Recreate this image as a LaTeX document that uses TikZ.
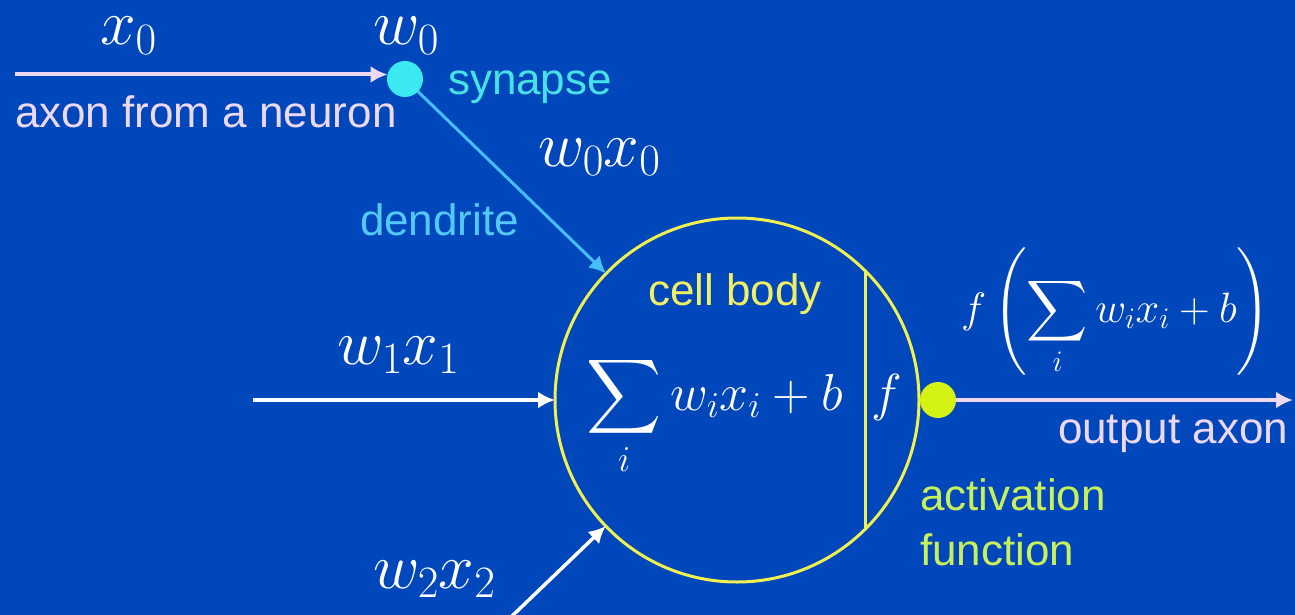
\RequirePackage{fix-cm}
\documentclass[tikz,border=0pt]{standalone}
\usepackage[no-math]{fontspec}
\DeclareFontShape{OMX}{cmex}{m}{n}{<->cmex10}{}
\newfontfamily\lab{Liberation Sans}
\usetikzlibrary{arrows.meta}
\definecolor{bg}{RGB}{0,71,187}
\definecolor{lav}{RGB}{236,216,242}
\definecolor{cyandot}{RGB}{60,232,242}
\definecolor{syntext}{RGB}{70,226,230}
\definecolor{dend}{RGB}{70,190,250}
\definecolor{dendtext}{RGB}{85,200,250}
\definecolor{cellyel}{RGB}{240,240,80}
\definecolor{celltext}{RGB}{240,240,100}
\definecolor{actdot}{RGB}{212,242,20}
\definecolor{acttext}{RGB}{200,240,90}
\begin{document}
\begin{tikzpicture}[x=1pt,y=-1pt,
  lbl/.style={inner sep=0pt, outer sep=0pt, anchor=base west, font=\lab\fontsize{44}{52}\selectfont},
  mth/.style={inner sep=0pt, outer sep=0pt, anchor=base west, text=white, font=\fontsize{64}{72}\selectfont},
  dot/.style={circle, inner sep=0pt, outer sep=0pt, minimum size=36pt},
  tip/.style={-{Latex[length=17pt,width=17pt]}},
  ]
\fill[bg] (0,0) rectangle (1295,615);
\useasboundingbox (0,0) rectangle (1295,615);

% cell body
\node[circle, draw=cellyel, line width=3pt, inner sep=0pt, outer sep=0pt, minimum size=364pt] (body) at (737,400) {};
\draw[cellyel, line width=3pt] (body.45) -- (body.-45);

% dots
\node[dot, fill=cyandot] (syn) at (405,79) {};
\node[dot, fill=actdot] (act) at (938,400) {};

% coordinates
\coordinate (x0start) at (15,74.5);
\coordinate (x1start) at (253,400);
\coordinate (x2start) at (510,618);
\coordinate (outend) at (1293,400);

% connectors
\draw[lav, line width=4pt, tip] (x0start) -- (x0start -| syn.165);
\draw[dend, line width=3pt, tip] (syn) -- (body);
\draw[white, line width=3.5pt, tip] (x1start) -- (body);
\draw[white, line width=3.5pt, tip] (x2start) -- (body);
\draw[lav, line width=4pt, tip] (act) -- (outend);

% labels
\node[mth] (lx0) at (100,45) {$x_0$};
\node[mth] (lw0) at (373,45) {$w_0$};
\node[mth] (lw0x0) at (538,166) {$w_0x_0$};
\node[mth] (lw1x1) at (337,364) {$w_1x_1$};
\node[mth] (lw2x2) at (373,588) {$w_2x_2$};

\node[lbl, text=lav] (taxon) at (15,128) {axon from a neuron};
\node[lbl, text=syntext] (tsyn) at (448,95) {synapse};
\node[lbl, text=dendtext] (tdend) at (360,235) {dendrite};
\node[lbl, text=celltext, anchor=base] (tcell) at (735,305) {cell body};
\node[lbl, text=lav, anchor=base east] (tout) at (1288,443) {output axon};
\node[lbl, text=acttext] (tact1) at (920,510) {activation};
\node[lbl, text=acttext] (tact2) at (920,565) {function};

\node[inner sep=0pt, anchor=base, text=white, font=\fontsize{52}{62}\selectfont] (sum) at (715,410) {$\displaystyle\sum_i w_ix_i+b$};
\node[inner sep=0pt, anchor=base, text=white, font=\fontsize{52}{62}\selectfont] (fin) at (887,410) {$f$};
\node[inner sep=0pt, anchor=base west, text=white, font=\fontsize{42.5}{50}\selectfont] (fout) at (961,322) {$f\left(\displaystyle\sum_i w_ix_i+b\right)$};
\end{tikzpicture}
\end{document}
